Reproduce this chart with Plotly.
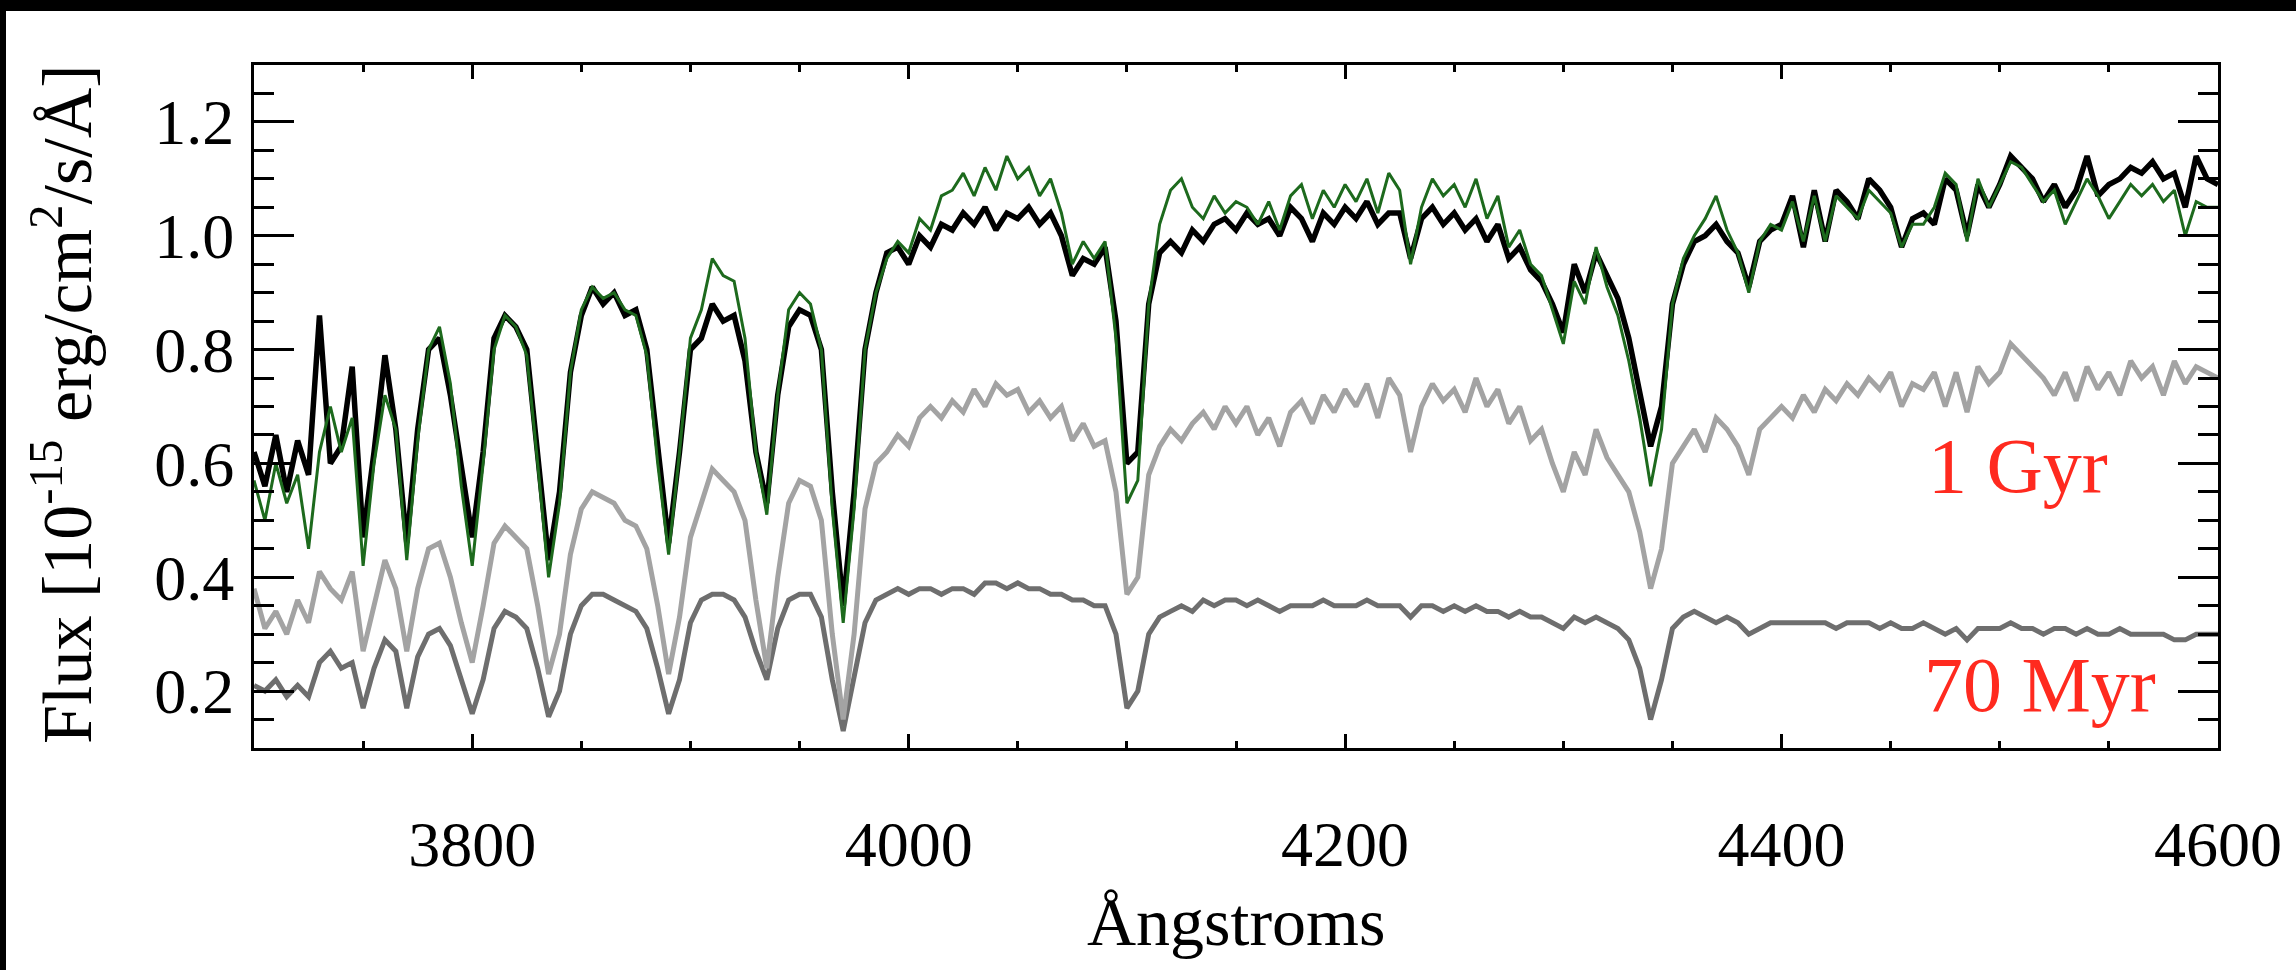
import plotly.graph_objects as go

# Wavelength grid of the spectra (Angstroms, 5 A sampling)
WAVELENGTH = list(range(3700, 4605, 5))

# Observed spectrum (1e-15 erg/cm^2/s/A)
FLUX_OBSERVED = [
    0.62, 0.56, 0.65, 0.55, 0.64, 0.58, 0.86, 0.60, 0.63, 0.77,
    0.47, 0.62, 0.79, 0.66, 0.46, 0.66, 0.80, 0.82, 0.72, 0.60,
    0.47, 0.62, 0.82, 0.86, 0.84, 0.80, 0.62, 0.43, 0.55, 0.76,
    0.86, 0.91, 0.88, 0.90, 0.86, 0.87, 0.80, 0.62, 0.46, 0.62,
    0.80, 0.82, 0.88, 0.85, 0.86, 0.78, 0.62, 0.53, 0.72, 0.84,
    0.87, 0.86, 0.80, 0.55, 0.35, 0.55, 0.80, 0.90, 0.97, 0.98,
    0.95, 1.00, 0.98, 1.02, 1.01, 1.04, 1.02, 1.05, 1.01, 1.04,
    1.03, 1.05, 1.02, 1.04, 1.00, 0.93, 0.96, 0.95, 0.98, 0.85,
    0.60, 0.62, 0.88, 0.97, 0.99, 0.97, 1.01, 0.99, 1.02, 1.03,
    1.01, 1.04, 1.02, 1.03, 1.00, 1.05, 1.03, 0.99, 1.04, 1.02,
    1.05, 1.03, 1.06, 1.02, 1.04, 1.04, 0.96, 1.03, 1.05, 1.02,
    1.04, 1.01, 1.03, 0.99, 1.02, 0.96, 0.98, 0.94, 0.92, 0.88,
    0.83, 0.95, 0.90, 0.97, 0.93, 0.89, 0.82, 0.72, 0.63, 0.70,
    0.88, 0.95, 0.99, 1.00, 1.02, 0.99, 0.97, 0.91, 0.99, 1.01,
    1.02, 1.07, 0.98, 1.08, 0.99, 1.08, 1.06, 1.03, 1.10, 1.08,
    1.05, 0.98, 1.03, 1.04, 1.02, 1.10, 1.08, 1.00, 1.09, 1.05,
    1.09, 1.14, 1.12, 1.10, 1.06, 1.09, 1.05, 1.08, 1.14, 1.07,
    1.09, 1.10, 1.12, 1.11, 1.13, 1.10, 1.11, 1.05, 1.14, 1.10,
    1.09,
]

# Best-fit composite model
FLUX_MODEL = [
    0.57, 0.50, 0.60, 0.53, 0.58, 0.45, 0.62, 0.70, 0.62, 0.68,
    0.42, 0.60, 0.72, 0.66, 0.43, 0.64, 0.80, 0.84, 0.74, 0.56,
    0.42, 0.60, 0.80, 0.86, 0.84, 0.79, 0.60, 0.40, 0.53, 0.76,
    0.87, 0.91, 0.89, 0.90, 0.87, 0.86, 0.79, 0.60, 0.44, 0.62,
    0.82, 0.87, 0.96, 0.93, 0.92, 0.82, 0.62, 0.51, 0.72, 0.87,
    0.90, 0.88, 0.80, 0.52, 0.32, 0.52, 0.80, 0.90, 0.96, 0.99,
    0.97, 1.03, 1.01, 1.07, 1.08, 1.11, 1.07, 1.12, 1.08, 1.14,
    1.10, 1.12, 1.07, 1.10, 1.04, 0.95, 0.99, 0.96, 0.99, 0.82,
    0.53, 0.57, 0.88, 1.02, 1.08, 1.10, 1.05, 1.03, 1.07, 1.04,
    1.06, 1.05, 1.02, 1.06, 1.01, 1.07, 1.09, 1.03, 1.08, 1.05,
    1.09, 1.06, 1.10, 1.04, 1.11, 1.08, 0.95, 1.05, 1.10, 1.07,
    1.09, 1.05, 1.10, 1.03, 1.07, 0.98, 1.01, 0.95, 0.93, 0.87,
    0.81, 0.92, 0.88, 0.98, 0.91, 0.86, 0.78, 0.68, 0.56, 0.66,
    0.88, 0.96, 1.00, 1.03, 1.07, 1.01, 0.97, 0.90, 0.99, 1.02,
    1.01, 1.06, 0.99, 1.07, 0.99, 1.07, 1.05, 1.03, 1.08, 1.06,
    1.04, 0.98, 1.02, 1.02, 1.05, 1.11, 1.09, 0.99, 1.10, 1.05,
    1.09, 1.13, 1.12, 1.09, 1.06, 1.08, 1.02, 1.06, 1.10, 1.07,
    1.03, 1.06, 1.09, 1.07, 1.09, 1.06, 1.08, 1.00, 1.06, 1.05,
    1.05,
]

# 1 Gyr population component
FLUX_1GYR = [
    0.38, 0.31, 0.34, 0.30, 0.36, 0.32, 0.41, 0.38, 0.36, 0.41,
    0.27, 0.35, 0.43, 0.38, 0.27, 0.38, 0.45, 0.46, 0.40, 0.32,
    0.25, 0.35, 0.46, 0.49, 0.47, 0.45, 0.35, 0.23, 0.30, 0.44,
    0.52, 0.55, 0.54, 0.53, 0.50, 0.49, 0.45, 0.35, 0.23, 0.33,
    0.47, 0.53, 0.59, 0.57, 0.55, 0.50, 0.36, 0.24, 0.40, 0.53,
    0.57, 0.56, 0.50, 0.30, 0.15, 0.30, 0.52, 0.60, 0.62, 0.65,
    0.63, 0.68, 0.70, 0.68, 0.71, 0.69, 0.73, 0.70, 0.74, 0.72,
    0.73, 0.69, 0.71, 0.68, 0.70, 0.64, 0.67, 0.63, 0.64, 0.55,
    0.37, 0.40, 0.58, 0.63, 0.66, 0.64, 0.67, 0.69, 0.66, 0.70,
    0.67, 0.70, 0.65, 0.68, 0.63, 0.69, 0.71, 0.67, 0.72, 0.69,
    0.73, 0.70, 0.74, 0.68, 0.75, 0.72, 0.62, 0.70, 0.74, 0.71,
    0.73, 0.69, 0.75, 0.70, 0.73, 0.67, 0.70, 0.64, 0.66, 0.60,
    0.55, 0.62, 0.58, 0.66, 0.61, 0.58, 0.55, 0.48, 0.38, 0.45,
    0.60, 0.63, 0.66, 0.62, 0.68, 0.66, 0.63, 0.58, 0.66, 0.68,
    0.70, 0.68, 0.72, 0.69, 0.73, 0.71, 0.74, 0.72, 0.75, 0.73,
    0.76, 0.70, 0.74, 0.73, 0.76, 0.70, 0.76, 0.69, 0.77, 0.74,
    0.76, 0.81, 0.79, 0.77, 0.75, 0.72, 0.76, 0.71, 0.77, 0.73,
    0.76, 0.72, 0.78, 0.75, 0.77, 0.72, 0.78, 0.74, 0.77, 0.76,
    0.75,
]

# 70 Myr population component
FLUX_70MYR = [
    0.21, 0.20, 0.22, 0.19, 0.21, 0.19, 0.25, 0.27, 0.24, 0.25,
    0.17, 0.24, 0.29, 0.27, 0.17, 0.26, 0.30, 0.31, 0.28, 0.22,
    0.16, 0.22, 0.31, 0.34, 0.33, 0.31, 0.24, 0.155, 0.20, 0.30,
    0.35, 0.37, 0.37, 0.36, 0.35, 0.34, 0.31, 0.24, 0.16, 0.22,
    0.32, 0.36, 0.37, 0.37, 0.36, 0.33, 0.27, 0.22, 0.31, 0.36,
    0.37, 0.37, 0.33, 0.22, 0.13, 0.22, 0.32, 0.36, 0.37, 0.38,
    0.37, 0.38, 0.38, 0.37, 0.38, 0.38, 0.37, 0.39, 0.39, 0.38,
    0.39, 0.38, 0.38, 0.37, 0.37, 0.36, 0.36, 0.35, 0.35, 0.30,
    0.17, 0.20, 0.30, 0.33, 0.34, 0.35, 0.34, 0.36, 0.35, 0.36,
    0.36, 0.35, 0.36, 0.35, 0.34, 0.35, 0.35, 0.35, 0.36, 0.35,
    0.35, 0.35, 0.36, 0.35, 0.35, 0.35, 0.33, 0.35, 0.35, 0.34,
    0.35, 0.34, 0.35, 0.34, 0.34, 0.33, 0.34, 0.33, 0.33, 0.32,
    0.31, 0.33, 0.32, 0.33, 0.32, 0.31, 0.29, 0.24, 0.15, 0.22,
    0.31, 0.33, 0.34, 0.33, 0.32, 0.33, 0.32, 0.30, 0.31, 0.32,
    0.32, 0.32, 0.32, 0.32, 0.32, 0.31, 0.32, 0.32, 0.32, 0.31,
    0.32, 0.31, 0.31, 0.32, 0.31, 0.30, 0.31, 0.29, 0.31, 0.31,
    0.31, 0.32, 0.31, 0.31, 0.30, 0.31, 0.31, 0.30, 0.31, 0.30,
    0.30, 0.31, 0.30, 0.30, 0.30, 0.30, 0.29, 0.29, 0.30, 0.30,
    0.30,
]

X_TICKS = [3800, 4000, 4200, 4400, 4600]
Y_TICKS = [0.2, 0.4, 0.6, 0.8, 1.0, 1.2]
Y_TICK_TEXT = ["0.2", "0.4", "0.6", "0.8", "1.0", "1.2"]
X_RANGE = [3700, 4600]
Y_RANGE = [0.1, 1.3]

# Figure geometry (pixels)
W, H = 2296, 970
ML, MR, MT, MB = 254, 78, 65, 222
PW, PH = W - ML - MR, H - MT - MB

SERIF = "Liberation Serif, Times New Roman, serif"
RED = "#ff2a1f"


def px_x(px):
    return (px - ML) / PW


def px_y(py):
    return (H - MB - py) / PH


fig = go.Figure()
fig.add_trace(go.Scatter(x=WAVELENGTH, y=FLUX_70MYR, mode="lines",
                         line=dict(color="#6e6e6e", width=5), name="70 Myr"))
fig.add_trace(go.Scatter(x=WAVELENGTH, y=FLUX_1GYR, mode="lines",
                         line=dict(color="#a3a3a3", width=5), name="1 Gyr"))
fig.add_trace(go.Scatter(x=WAVELENGTH, y=FLUX_OBSERVED, mode="lines",
                         line=dict(color="#000000", width=5.5), name="observed"))
fig.add_trace(go.Scatter(x=WAVELENGTH, y=FLUX_MODEL, mode="lines",
                         line=dict(color="#1d6a1d", width=3), name="model"))

axis_common = dict(
    showline=True, linecolor="black", linewidth=3, mirror="allticks",
    ticks="inside", tickcolor="black", tickwidth=3,
    showgrid=False, zeroline=False,
    tickfont=dict(family=SERIF, size=64, color="black"),
)

fig.update_xaxes(
    range=X_RANGE, tickvals=X_TICKS, ticklen=14,
    minor=dict(dtick=50, ticks="inside", ticklen=7, tickwidth=3,
               tickcolor="black", showgrid=False),
    ticklabelstandoff=38,
    **axis_common,
)
fig.update_yaxes(
    range=Y_RANGE, tickvals=Y_TICKS, ticktext=Y_TICK_TEXT,
    ticklen=40,
    minor=dict(dtick=0.05, tick0=0.1, ticks="inside", ticklen=20, tickwidth=3,
               tickcolor="black", showgrid=False),
    ticklabelstandoff=4,
    **axis_common,
)

annotations = [
    dict(text="Flux [10<sup>-15</sup> erg/cm<sup>2</sup>/s/Å]",
         x=px_x(62), y=px_y(404), textangle=-90,
         font=dict(family=SERIF, size=70, color="black")),
    dict(text="Ångstroms", x=px_x(1236), y=px_y(922),
         font=dict(family=SERIF, size=68, color="black")),
    dict(text="1 Gyr", x=px_x(2018), y=px_y(466),
         font=dict(family=SERIF, size=78, color=RED)),
    dict(text="70 Myr", x=px_x(2040), y=px_y(684),
         font=dict(family=SERIF, size=78, color=RED)),
]
for a in annotations:
    a.update(xref="paper", yref="paper", showarrow=False,
             xanchor="center", yanchor="middle")

# Dark frame along the top and left edges of the page
shapes = [
    dict(type="rect", xref="paper", yref="paper",
         x0=px_x(0), x1=px_x(W), y0=px_y(11), y1=px_y(0),
         fillcolor="black", line=dict(width=0), layer="above"),
    dict(type="rect", xref="paper", yref="paper",
         x0=px_x(0), x1=px_x(6), y0=px_y(H), y1=px_y(0),
         fillcolor="black", line=dict(width=0), layer="above"),
]

fig.update_layout(
    width=W, height=H,
    margin=dict(l=ML, r=MR, t=MT, b=MB, autoexpand=False),
    paper_bgcolor="white", plot_bgcolor="white",
    showlegend=False,
    annotations=annotations,
    shapes=shapes,
)

fig.write_html("out.html")
